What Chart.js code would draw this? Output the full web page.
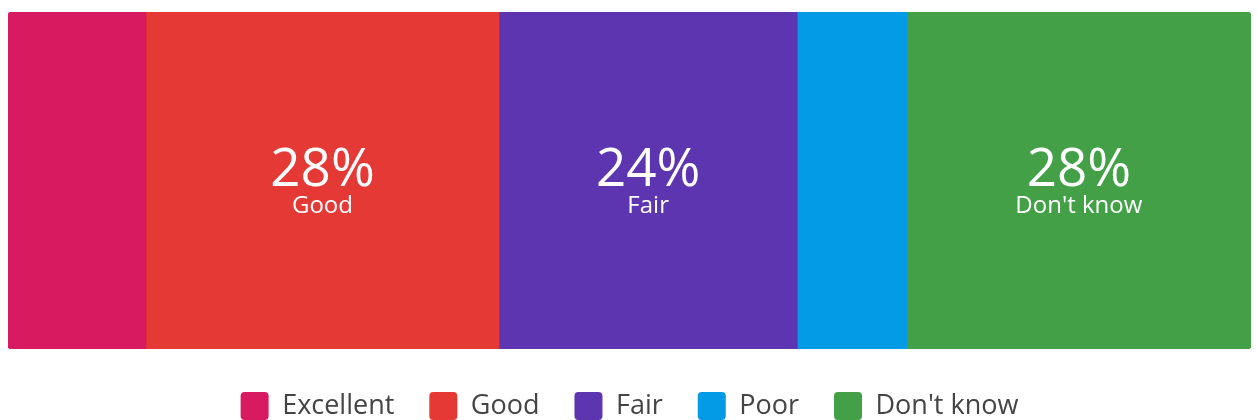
<!DOCTYPE html>
<html>
<head>
<meta charset="utf-8">
<script src="https://cdn.jsdelivr.net/npm/chart.js@4/dist/chart.umd.min.js"></script>
<style>
  html, body { margin: 0; padding: 0; background: #ffffff; overflow: hidden; }
  #wrap { width: 1257px; height: 420px; overflow: hidden; position: relative; }
  canvas { display: block; }
</style>
</head>
<body>
<div id="wrap"><canvas id="c" width="1257" height="430"></canvas></div>
<script>
const categories = ['Excellent', 'Good', 'Fair', 'Poor', "Don't know"];
const values = [11.1, 28.4, 24.0, 8.8, 27.7];
const colors = ['#D81B60', '#E53935', '#5E35B1', '#039BE5', '#43A047'];
const labelThreshold = 15;

const datasets = categories.map((name, i) => ({
  label: name,
  data: [values[i]],
  backgroundColor: colors[i],
  borderWidth: 0,
  borderSkipped: false,
  borderRadius: i === 0 ? { topLeft: 4, bottomLeft: 4, topRight: 0, bottomRight: 0 }
              : i === categories.length - 1 ? { topLeft: 0, bottomLeft: 0, topRight: 4, bottomRight: 4 }
              : 0,
  barPercentage: 1,
  categoryPercentage: 1
}));

const segmentLabels = {
  id: 'segmentLabels',
  afterDatasetsDraw(chart) {
    const ctx = chart.ctx;
    ctx.save();
    ctx.fillStyle = '#ffffff';
    ctx.textAlign = 'center';
    ctx.textBaseline = 'alphabetic';
    chart.data.datasets.forEach((ds, i) => {
      const v = ds.data[0];
      if (v < labelThreshold) return;
      const el = chart.getDatasetMeta(i).data[0];
      const cx = (el.x + el.base) / 2;
      const cy = el.y;
      ctx.font = '53px "Open Sans", Roboto, sans-serif';
      ctx.fillText(Math.round(v) + '%', cx, cy + 5);
      ctx.font = '24px "Open Sans", Roboto, sans-serif';
      ctx.fillText(ds.label, cx, cy + 32);
    });
    ctx.restore();
  }
};

new Chart(document.getElementById('c'), {
  type: 'bar',
  data: { labels: [''], datasets },
  options: {
    responsive: false,
    animation: false,
    indexAxis: 'y',
    layout: { padding: { top: 12, left: 8, right: 6, bottom: 0 } },
    scales: {
      x: { stacked: true, display: false, min: 0, max: 100, grid: { display: false } },
      y: { stacked: true, display: false, grid: { display: false } }
    },
    plugins: {
      tooltip: { enabled: false },
      legend: {
        position: 'bottom',
        title: {
          display: true,
          text: ' ',
          font: { size: 5, lineHeight: 1.2 },
          padding: { top: 0, bottom: 2 }
        },
        labels: {
          boxWidth: 28,
          boxHeight: 28,
          useBorderRadius: true,
          borderRadius: 4,
          padding: 35,
          color: '#444444',
          font: { size: 27, family: '"Open Sans", Roboto, sans-serif' }
        }
      }
    }
  },
  plugins: [segmentLabels]
});
</script>
</body>
</html>
